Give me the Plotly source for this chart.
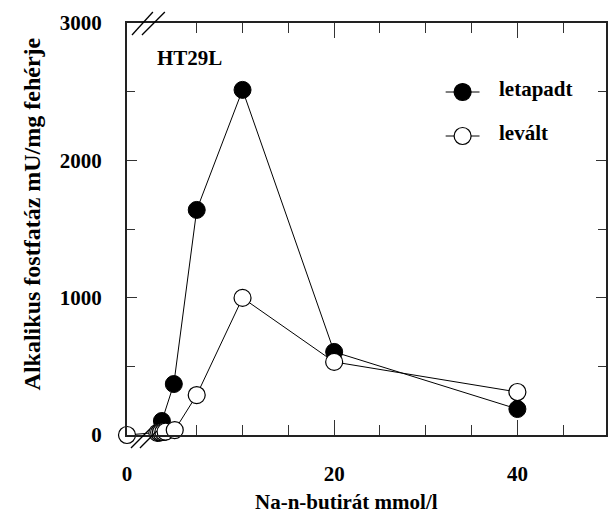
import plotly.graph_objects as go

# ---- data ----
conc_attached = [1.2, 2.5, 5, 10, 20, 40]
alp_attached = [102, 371, 1639, 2513, 605, 189]

conc_detached = [0, 0.7, 0.9, 1.1, 1.35, 1.6, 2.6, 5, 10, 20, 40]
alp_detached = [0, 15, 18, 20, 22, 25, 36, 291, 998, 532, 313]

x_tick_labels = ["0", "20", "40"]
x_tick_values = [0, 20, 40]
y_tick_values = [0, 1000, 2000, 3000]

# broken axis: concentration 0 is drawn at the left edge, before the break
X_LEFT = -2.61
X_RIGHT = 49.67


def disp(v):
    return v if v > 0 else X_LEFT


FONT = "Liberation Serif"
FS = 21
W, H = 608, 523
L, R, T, B = 127, 0, 23, 88
PW, PH = W - L - R, H - T - B


def px(x):
    return (x - L) / PW


def py(y):
    return (H - B - y) / PH


fig = go.Figure()

fig.add_trace(go.Scatter(
    x=[disp(v) for v in conc_attached], y=alp_attached, mode="lines+markers",
    name="letapadt", cliponaxis=False,
    line=dict(color="black", width=1),
    marker=dict(size=17, color="black", line=dict(color="black", width=1)),
))
fig.add_trace(go.Scatter(
    x=[disp(v) for v in conc_detached], y=alp_detached, mode="lines+markers",
    name="levált", cliponaxis=False,
    line=dict(color="black", width=1),
    marker=dict(size=17, color="white", line=dict(color="black", width=1.2)),
))

# manual legend on a pixel overlay axis
leg_items = [("letapadt", "black", 92), ("levált", "white", 136)]
for name, fill, yy in leg_items:
    fig.add_trace(go.Scatter(
        x=[447, 481], y=[yy, yy], mode="lines", xaxis="x2", yaxis="y2",
        line=dict(color="black", width=1), showlegend=False, hoverinfo="skip"))
    fig.add_trace(go.Scatter(
        x=[464], y=[yy], mode="markers", xaxis="x2", yaxis="y2",
        marker=dict(size=17, color=fill, line=dict(color="black", width=1.2)),
        showlegend=False, hoverinfo="skip"))
    fig.add_annotation(x=px(499), y=py(yy - 3), xref="paper", yref="paper",
                       text=f"<b>{name}</b>", showarrow=False, xanchor="left",
                       yanchor="middle", font=dict(family=FONT, size=FS, color="black"))

axis_font = dict(family=FONT, size=FS, color="black")

fig.update_layout(
    width=W, height=H,
    margin=dict(l=L, r=R, t=T, b=B),
    paper_bgcolor="white", plot_bgcolor="white",
    showlegend=False,
    font=dict(family=FONT, size=FS, color="black"),
    xaxis=dict(
        range=[X_LEFT, X_RIGHT],
        tickmode="array",
        tickvals=[disp(v) for v in x_tick_values],
        ticktext=[f"<b>{t}</b>" for t in x_tick_labels],
        ticks="inside", ticklen=15, tickwidth=1.3, tickcolor="#333",
        minor=dict(tickvals=[5, 10, 15, 25, 30, 35, 45], ticks="inside",
                   ticklen=10, tickwidth=1.3, tickcolor="#333"),
        showline=True, linecolor="#222", linewidth=2, mirror="ticks",
        showgrid=False, zeroline=False,
        tickfont=axis_font, ticklabelstandoff=19,
    ),
    yaxis=dict(
        range=[0, 3000],
        tickmode="array",
        tickvals=y_tick_values,
        ticktext=[f"<b>{v}</b>" for v in y_tick_values],
        ticks="inside", ticklen=10, tickwidth=1.3, tickcolor="#333",
        minor=dict(tickvals=[500, 1500, 2500], ticks="inside",
                   ticklen=8, tickwidth=1.3, tickcolor="#333"),
        showline=True, linecolor="#222", linewidth=2, mirror="ticks",
        showgrid=False, zeroline=False,
        tickfont=axis_font, ticklabelstandoff=19,
    ),
    xaxis2=dict(range=[L, W - R], overlaying="x", visible=False, fixedrange=True),
    yaxis2=dict(range=[H - B, T], overlaying="y", visible=False, fixedrange=True),
)

# axis titles and panel label
fig.add_annotation(x=px(347), y=py(502), xref="paper", yref="paper",
                   text="<b>Na-n-butirát mmol/l</b>", showarrow=False,
                   xanchor="center", yanchor="middle",
                   font=dict(family=FONT, size=FS, color="black"))
fig.add_annotation(x=px(32), y=py(214), xref="paper", yref="paper",
                   text="<b>Alkalikus fostfatáz mU/mg fehérje</b>", showarrow=False,
                   textangle=-90, xanchor="center", yanchor="middle",
                   font=dict(family=FONT, size=24, color="black"))
fig.add_annotation(x=px(155), y=py(58), xref="paper", yref="paper",
                   text="<b>HT29L</b>", showarrow=False, xanchor="left",
                   yanchor="middle",
                   font=dict(family=FONT, size=FS, color="black"))

# axis break marks
breaks = [
    ((132, 35), (153, 12)), ((142, 35), (165, 12)),
    ((131, 448), (150, 429)), ((140, 448), (157, 431)),
]
for (x0, y0), (x1, y1) in breaks:
    fig.add_shape(type="line", xref="paper", yref="paper",
                  x0=px(x0), y0=py(y0), x1=px(x1), y1=py(y1),
                  line=dict(color="black", width=1.3))

fig.write_html("out.html")
